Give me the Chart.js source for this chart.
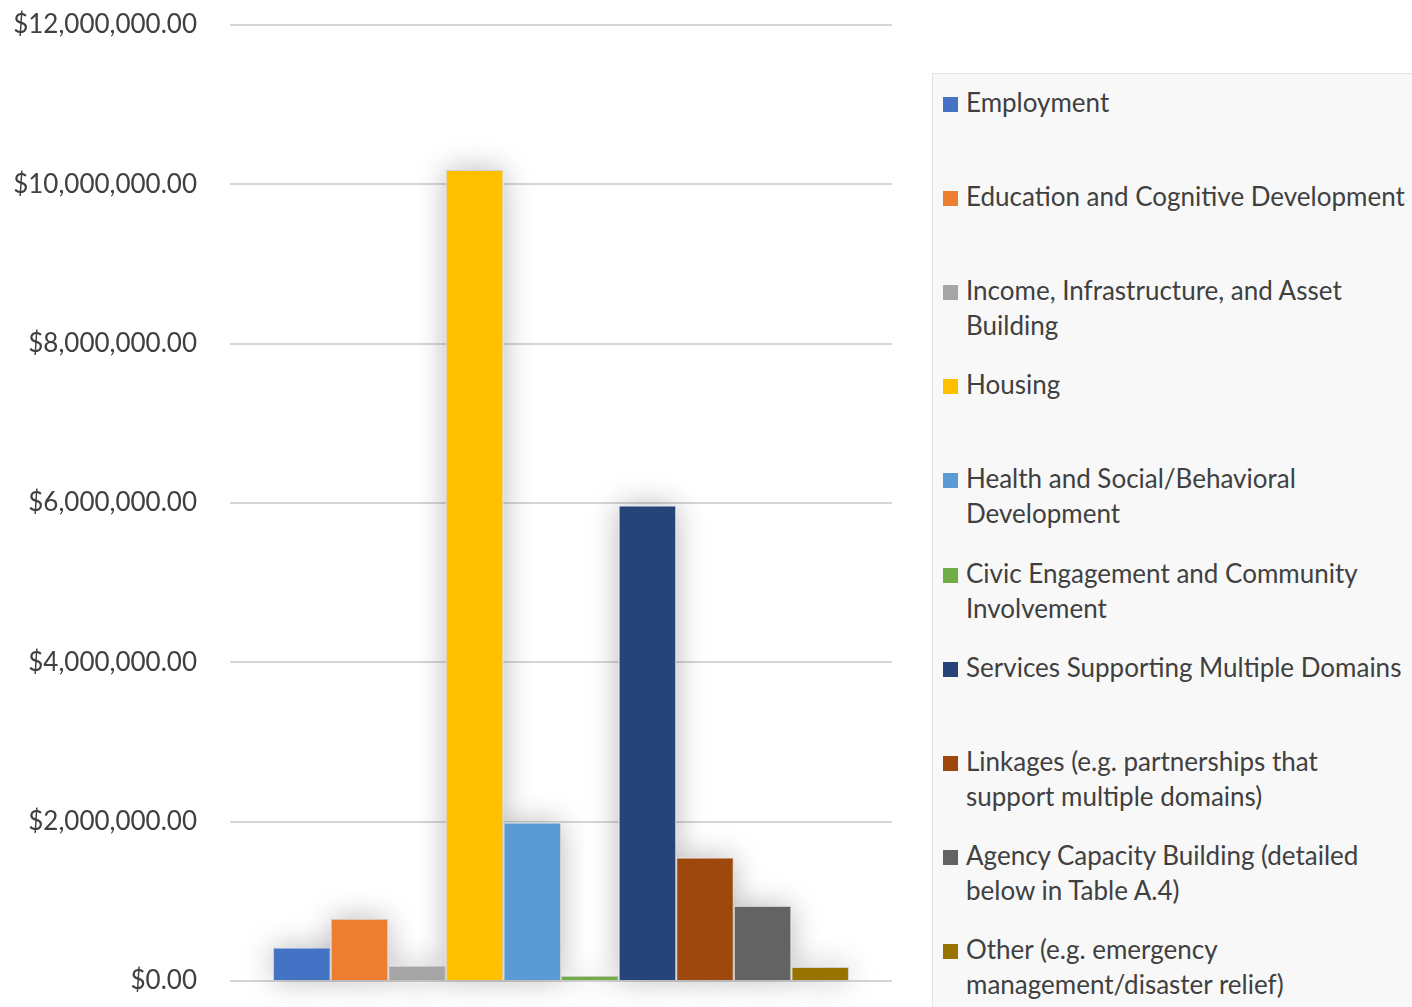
<!DOCTYPE html>
<html>
<head>
<meta charset="utf-8">
<script src="https://cdn.jsdelivr.net/npm/chart.js@4.4.1/dist/chart.umd.min.js"></script>
<style>
  html, body { margin: 0; padding: 0; background: #ffffff; }
  body { width: 1412px; height: 1007px; position: relative; overflow: hidden; font-family: Lato, "Open Sans", sans-serif; }
  #chartWrap { position: absolute; left: 0; top: 0; width: 900px; height: 1007px; }
  #legend { position: absolute; left: 932px; top: 73px; width: 490px; height: 960px; background: #f8f8f8; border: 1px solid #e4e4e4; box-sizing: border-box; }
  .item { position: absolute; left: 10px; width: 470px; color: #404040; font-size: 26px; line-height: 35px; }
  .sw { position: absolute; left: 0; top: 12px; width: 15px; height: 15px; }
  .txt { position: absolute; left: 23px; width: 444px; }
</style>
</head>
<body>
<div id="chartWrap"><canvas id="c"></canvas></div>
<div id="legend"></div>
<script>
const categories = ["Funding by Domain"];
const seriesNames = [
  "Employment",
  "Education and Cognitive Development",
  "Income, Infrastructure, and Asset Building",
  "Housing",
  "Health and Social/Behavioral Development",
  "Civic Engagement and Community Involvement",
  "Services Supporting Multiple Domains",
  "Linkages (e.g. partnerships that support multiple domains)",
  "Agency Capacity Building (detailed below in Table A.4)",
  "Other (e.g. emergency management/disaster relief)"
];
const seriesValues = [420000, 780000, 190000, 10180000, 1990000, 65000, 5970000, 1550000, 940000, 175000];
const seriesColors = ["#4472C4", "#ED7D31", "#A5A5A5", "#FFC000", "#5B9BD5", "#70AD47", "#264478", "#9E480E", "#636363", "#997300"];
const yTicks = [0, 2000000, 4000000, 6000000, 8000000, 10000000, 12000000];

const datasets = seriesNames.map((name, i) => ({
  label: name,
  data: [seriesValues[i]],
  backgroundColor: seriesColors[i],
  borderColor: "rgba(120,120,120,0.35)",
  borderWidth: 1,
  barPercentage: 1.0,
  categoryPercentage: 0.87
}));

const shadowPlugin = {
  id: "barShadow",
  beforeDatasetsDraw(chart) {
    const ctx = chart.ctx;
    ctx.save();
    ctx.shadowColor = "rgba(0,0,0,0.28)";
    ctx.shadowBlur = 30;
    ctx.fillStyle = "#ffffff";
    chart.data.datasets.forEach((ds, i) => {
      const meta = chart.getDatasetMeta(i);
      meta.data.forEach(el => {
        const p = el.getProps(["x", "y", "base", "width"], true);
        ctx.fillRect(p.x - p.width / 2, p.y, p.width, p.base - p.y);
      });
    });
    ctx.restore();
  }
};

new Chart(document.getElementById("c"), {
  type: "bar",
  data: { labels: categories, datasets },
  plugins: [shadowPlugin],
  options: {
    responsive: true,
    maintainAspectRatio: false,
    animation: false,
    layout: { padding: { top: 25, bottom: 26, right: 8, left: 0 } },
    plugins: { legend: { display: false }, tooltip: { enabled: false } },
    scales: {
      x: { display: false },
      y: {
        min: 0,
        max: 12000000,
        afterBuildTicks(scale) { scale.ticks = yTicks.map(v => ({ value: v })); },
        afterFit(scale) { scale.width = 230; scale.paddingTop = 0; scale.paddingBottom = 0; },
        border: { display: false },
        grid: { color: "#d6d6d6", lineWidth: 2, drawTicks: false },
        ticks: {
          padding: 33,
          color: "#404040",
          font: { family: "Lato", size: 26 },
          callback: v => "$" + Number(v).toLocaleString("en-US", { minimumFractionDigits: 2, maximumFractionDigits: 2 })
        }
      }
    }
  }
});

const legend = document.getElementById("legend");
seriesNames.forEach((name, i) => {
  const it = document.createElement("div");
  it.className = "item";
  it.style.top = (11 + i * 94.1) + "px";
  const sw = document.createElement("div");
  sw.className = "sw";
  sw.style.background = seriesColors[i];
  const tx = document.createElement("div");
  tx.className = "txt";
  tx.textContent = name;
  it.appendChild(sw);
  it.appendChild(tx);
  legend.appendChild(it);
});
</script>
</body>
</html>
